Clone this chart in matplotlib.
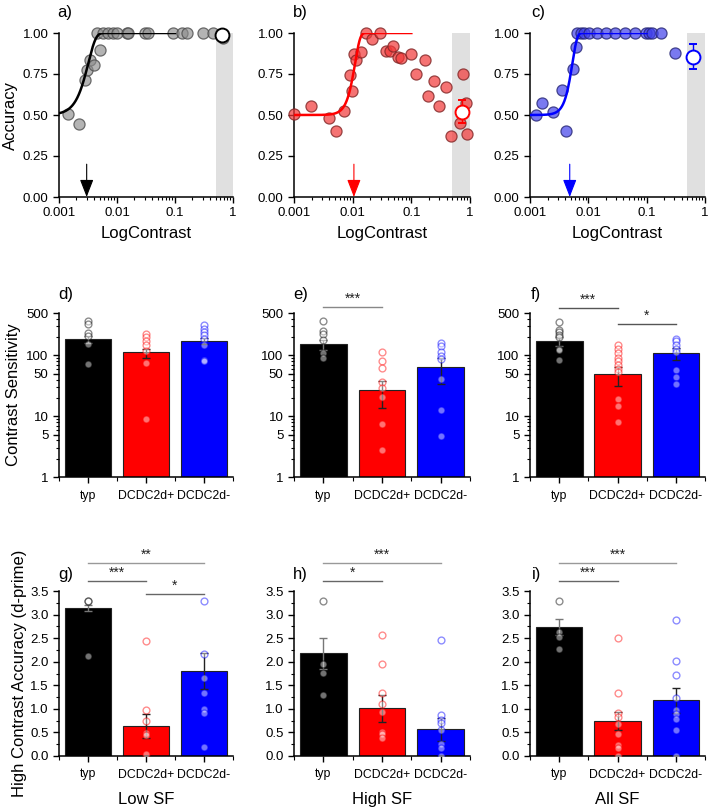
import numpy as np
import matplotlib
matplotlib.use('Agg')
import matplotlib.pyplot as plt
from matplotlib.ticker import FixedLocator, NullFormatter, FixedFormatter
import matplotlib.transforms as mtransforms

plt.rcParams['font.family'] = ['Liberation Sans', 'DejaVu Sans']

# ---------------- DATA ----------------
groups = ['typ', 'DCDC2d+', 'DCDC2d-']

# Row 1: individual psychometric data (contrast, accuracy)
a_x = [0.00145, 0.00221, 0.0028, 0.00309, 0.00342, 0.00406, 0.0051, 0.0045, 0.0058, 0.0071,
       0.0086, 0.0101, 0.0146, 0.0157, 0.0304, 0.0336, 0.093, 0.13, 0.16, 0.31, 0.46, 0.68]
a_y = [0.505, 0.444, 0.715, 0.772, 0.837, 0.806, 0.898, 1, 1, 1,
       1, 1, 1, 1, 1, 1, 1, 1, 1, 1, 1, 0.97]
b_x = [0.001, 0.00197, 0.0039, 0.0051, 0.0071, 0.0089, 0.0099, 0.0104, 0.0115, 0.0137,
       0.0171, 0.0214, 0.0296, 0.0375, 0.043, 0.0487, 0.059, 0.067, 0.1, 0.122,
       0.169, 0.19, 0.24, 0.30, 0.385, 0.48, 0.67, 0.76, 0.84, 0.90]
b_y = [0.505, 0.552, 0.48, 0.403, 0.525, 0.745, 0.644, 0.874, 0.837, 0.884,
       1.0, 0.965, 1.0, 0.888, 0.89, 0.92, 0.853, 0.847, 0.874, 0.75,
       0.833, 0.617, 0.705, 0.552, 0.668, 0.369, 0.45, 0.75, 0.572, 0.383]
c_x = [0.00127, 0.00159, 0.00252, 0.00352, 0.00418, 0.00537, 0.0062, 0.0064, 0.0075, 0.0085,
       0.0101, 0.0141, 0.0202, 0.0284, 0.0432, 0.0627, 0.096, 0.11, 0.125, 0.175, 0.307]
c_y = [0.50, 0.572, 0.52, 0.654, 0.403, 0.78, 0.912, 1, 1, 1,
       1, 1, 1, 1, 1, 1, 1, 1, 1, 1, 0.878]
# high-contrast means (x, mean, err)
hc_x = [0.65, 0.72, 0.63]
hc_mean = [0.985, 0.52, 0.855]
hc_err = [0.03, 0.07, 0.075]
# fitted Weibull parameters (alpha, beta) and thresholds
fit_alpha = [0.0032, 0.011, 0.00533]
fit_beta = [3.3, 5.0, 5.3]
thresholds = [0.003, 0.0105, 0.0048]

# Row 2: contrast sensitivity
d_means = [187, 111, 175]
d_sems = [25, 19, 22]
d_typ = [365, 334, 234, 212, 156, 73]
d_pos = [228, 201, 173, 147, 117, 76, 9.1]
d_neg = [313, 276, 243, 214, 189, 147, 85, 81]

e_means = [152, 25.7, 63]
e_sems = [30, 12, 29]
e_typ = [365, 250, 223, 177, 110, 92]
e_pos = [115, 80, 63, 36.6, 29.5, 21, 7.4, 2.75]
e_neg = [160, 141, 114, 97, 88.6, 41.5, 12.8, 4.7]

f_means = [171, 48, 110]
f_sems = [30, 17, 25]
f_typ = [356, 266, 243, 214, 201, 126, 121, 83]
f_pos = [147, 129, 111, 92, 81, 69, 61, 53.5, 19.5, 14.6, 8.0]
f_neg = [189, 173, 147, 129, 114, 58, 45, 33.5]

# Row 3: d-prime
g_means = [3.14, 0.636, 1.81]
g_sems = [0.07, 0.26, 0.38]
g_typ = [3.28, 3.28, 2.12]
g_pos = [2.45, 0.98, 0.735, 0.495, 0.44, 0.05]
g_neg = [3.28, 2.17, 1.66, 1.34, 0.99, 0.91, 0.19]

h_means = [2.18, 1.01, 0.566]
h_sems = [0.33, 0.28, 0.25]
h_typ = [3.28, 1.96, 1.76, 1.29]
h_pos = [2.56, 1.96, 1.34, 1.10, 0.93, 0.51, 0.47, 0.38]
h_neg = [2.46, 0.88, 0.76, 0.69, 0.56, 0.26, 0.18, 0.01]

i_means = [2.73, 0.743, 1.18]
i_sems = [0.17, 0.2, 0.26]
i_typ = [3.28, 2.63, 2.52, 2.28]
i_pos = [2.51, 1.34, 0.92, 0.83, 0.67, 0.47, 0.23, 0.16, 0.01]
i_neg = [2.88, 2.01, 1.71, 1.22, 0.98, 0.90, 0.78, 0.56, 0.01]

# significance annotations: (from group, to group, label)
e_sig = [(0, 1, '***')]
f_sig = [(0, 1, '***'), (1, 2, '*')]
g_sig = [(0, 2, '**'), (0, 1, '***'), (1, 2, '*')]
h_sig = [(0, 2, '***'), (0, 1, '*')]
i_sig = [(0, 2, '***'), (0, 1, '***')]

# ---------------- LAYOUT / STYLE ----------------
W, H = 709, 811
fig = plt.figure(figsize=(W / 100, H / 100), dpi=100)

cols = [(59, 233), (294, 470), (530, 705)]
rows = [(33, 197), (313, 477), (591, 756)]

def ax_at(c, r):
    x0, x1 = cols[c]
    y0, y1 = rows[r]
    return fig.add_axes([x0 / W, 1 - y1 / H, (x1 - x0) / W, (y1 - y0) / H])

bar_colors = ['#000000', '#ff0000', '#0000ff']
err_colors = ['#777777', '#222222', '#222222']
pt_face = [(0.55, 0.55, 0.55, 0.65), (0.95, 0.22, 0.22, 0.7), (0.25, 0.25, 0.92, 0.7)]
pt_edge = [(0.3, 0.3, 0.3, 0.8), (0.5, 0.15, 0.15, 0.8), (0.15, 0.15, 0.45, 0.8)]
line_colors = ['#000000', '#ff0000', '#0000ff']
TICK = 9.5
LAB = 12

def style(ax):
    for s in ['top', 'right']:
        ax.spines[s].set_visible(False)
    for s in ['left', 'bottom']:
        ax.spines[s].set_linewidth(1.1)
    ax.tick_params(which='major', direction='out', length=4, width=1.0, labelsize=TICK)
    ax.tick_params(which='minor', direction='out', length=2.2, width=0.8)

# ---------- Row 1 ----------
xs_list = [a_x, b_x, c_x]
ys_list = [a_y, b_y, c_y]
for k in range(3):
    ax = ax_at(k, 0)
    style(ax)
    ax.set_xscale('log')
    ax.set_xlim(0.001, 1)
    ax.set_ylim(0, 1)
    ax.axvspan(0.5, 1, color='#e0e0e0', zorder=0, lw=0)
    ax.scatter(xs_list[k], ys_list[k], s=64, facecolor=pt_face[k], edgecolor=pt_edge[k],
               linewidths=0.9, zorder=3, clip_on=False)
    xc = np.logspace(-3, -1, 300)
    yc = 0.5 + 0.5 * (1 - np.exp(-(xc / fit_alpha[k]) ** fit_beta[k]))
    ax.plot(xc, yc, color=line_colors[k], lw=1.8, zorder=4)
    ax.errorbar(hc_x[k], hc_mean[k], yerr=hc_err[k], fmt='o', ms=10, mfc='white',
                mec=line_colors[k], mew=1.4, ecolor=line_colors[k], elinewidth=1.0,
                capsize=3, zorder=5, clip_on=False)
    ax.annotate('', xy=(thresholds[k], 0), xytext=(thresholds[k], 0.2),
                arrowprops=dict(arrowstyle='-|>,head_length=0.9,head_width=0.35',
                                color=line_colors[k], lw=0.8, shrinkA=0, shrinkB=0,
                                mutation_scale=12), zorder=6)
    ax.xaxis.set_major_locator(FixedLocator([0.001, 0.01, 0.1, 1]))
    ax.xaxis.set_major_formatter(FixedFormatter(['0.001', '0.01', '0.1', '1']))
    minors = [m * 10.0 ** e for e in (-3, -2, -1) for m in range(2, 10)]
    ax.xaxis.set_minor_locator(FixedLocator(minors))
    ax.xaxis.set_minor_formatter(NullFormatter())
    ax.yaxis.set_major_locator(FixedLocator([0, 0.25, 0.5, 0.75, 1.0]))
    ax.yaxis.set_major_formatter(FixedFormatter(['0.00', '0.25', '0.50', '0.75', '1.00']))
    ax.set_xlabel('LogContrast', fontsize=LAB, labelpad=5)
    if k == 0:
        ax.set_ylabel('Accuracy', fontsize=LAB)
        ax.yaxis.set_label_coords(-0.235, 0.5)

# ---------- Bar rows ----------
def bar_panel(ax, means, sems, pts, sigs, log, sig_y, sig_col):
    style(ax)
    x = np.arange(3)
    ax.set_xlim(-0.5, 2.5)
    if log:
        ax.set_yscale('log')
        ax.bar(x, means, width=0.8, bottom=1, color=bar_colors, edgecolor='#222222',
               linewidth=0.8, zorder=2)
    else:
        ax.bar(x, means, width=0.8, color=bar_colors, edgecolor='#222222',
               linewidth=0.8, zorder=2)
    for j in range(3):
        ax.errorbar(x[j], means[j], yerr=sems[j], fmt='none', ecolor=err_colors[j],
                    elinewidth=1.0, capsize=3, capthick=1.0, zorder=3)
        ax.scatter(np.full(len(pts[j]), x[j]), pts[j], s=24, facecolor='white',
                   edgecolor=bar_colors[j], alpha=0.45, linewidths=1.0, zorder=4)
    ax.xaxis.set_major_locator(FixedLocator([0, 1, 2]))
    ax.xaxis.set_major_formatter(FixedFormatter(groups))
    ax.xaxis.set_minor_locator(FixedLocator([-0.5, 0.5, 1.5, 2.5]))
    ax.tick_params(axis='x', which='major', labelsize=8.8, length=4, pad=5)
    ax.tick_params(axis='x', which='minor', length=3)
    trans = mtransforms.blended_transform_factory(ax.transData, ax.transAxes)
    for (g0, g1, lab), yy, cc in zip(sigs, sig_y, sig_col):
        ax.plot([g0, g1], [yy, yy], color=cc, lw=1.0, transform=trans, clip_on=False, zorder=6)
        ax.text((g0 + g1) / 2, yy + 0.008, lab, transform=trans, ha='center', va='bottom',
                fontsize=10, color='#222222', clip_on=False)

row2 = [(d_means, d_sems, [d_typ, d_pos, d_neg], [], [], []),
        (e_means, e_sems, [e_typ, e_pos, e_neg], e_sig, [1.037], ['#888888']),
        (f_means, f_sems, [f_typ, f_pos, f_neg], f_sig, [1.03, 0.93], ['#555555', '#555555'])]
for k, (m, s, p, sg, sy, sc) in enumerate(row2):
    ax = ax_at(k, 1)
    bar_panel(ax, m, s, p, sg, True, sy, sc)
    ax.set_ylim(1, 500)
    ax.yaxis.set_major_locator(FixedLocator([1, 5, 10, 50, 100, 500]))
    ax.yaxis.set_major_formatter(FixedFormatter(['1', '5', '10', '50', '100', '500']))
    mn = [v * 10.0 ** e for e in (0, 1, 2) for v in (2, 3, 4, 6, 7, 8, 9)]
    ax.yaxis.set_minor_locator(FixedLocator([v for v in mn if v < 500]))
    ax.yaxis.set_minor_formatter(NullFormatter())
    if k == 0:
        ax.set_ylabel('Contrast Sensitivity', fontsize=LAB)
        ax.yaxis.set_label_coords(-0.22, 0.5)

row3 = [(g_means, g_sems, [g_typ, g_pos, g_neg], g_sig, [1.17, 1.06, 0.982],
         ['#999999', '#666666', '#666666'], 'Low SF'),
        (h_means, h_sems, [h_typ, h_pos, h_neg], h_sig, [1.17, 1.06],
         ['#999999', '#666666'], 'High SF'),
        (i_means, i_sems, [i_typ, i_pos, i_neg], i_sig, [1.17, 1.06],
         ['#999999', '#666666'], 'All SF')]
for k, (m, s, p, sg, sy, sc, xl) in enumerate(row3):
    ax = ax_at(k, 2)
    bar_panel(ax, m, s, p, sg, False, sy, sc)
    ax.set_ylim(0, 3.5)
    ax.yaxis.set_major_locator(FixedLocator(np.arange(0, 3.51, 0.5)))
    ax.yaxis.set_major_formatter(FixedFormatter(['%.1f' % v for v in np.arange(0, 3.51, 0.5)]))
    ax.yaxis.set_minor_locator(FixedLocator(np.arange(0.25, 3.5, 0.5)))
    ax.set_xlabel(xl, fontsize=LAB, labelpad=8)
    if k == 0:
        ax.set_ylabel('High Contrast Accuracy (d-prime)', fontsize=LAB)
        ax.yaxis.set_label_coords(-0.185, 0.5)

# panel letters
letters = [('a)', 57, 12), ('b)', 293, 12), ('c)', 531, 12),
           ('d)', 58, 295), ('e)', 293, 295), ('f)', 531, 295),
           ('g)', 58, 574), ('h)', 293, 574), ('i)', 532, 574)]
for t, px, py in letters:
    fig.text(px / W, 1 - py / H, t, fontsize=LAB, ha='left', va='center')

fig.savefig('out.png', dpi=100)
